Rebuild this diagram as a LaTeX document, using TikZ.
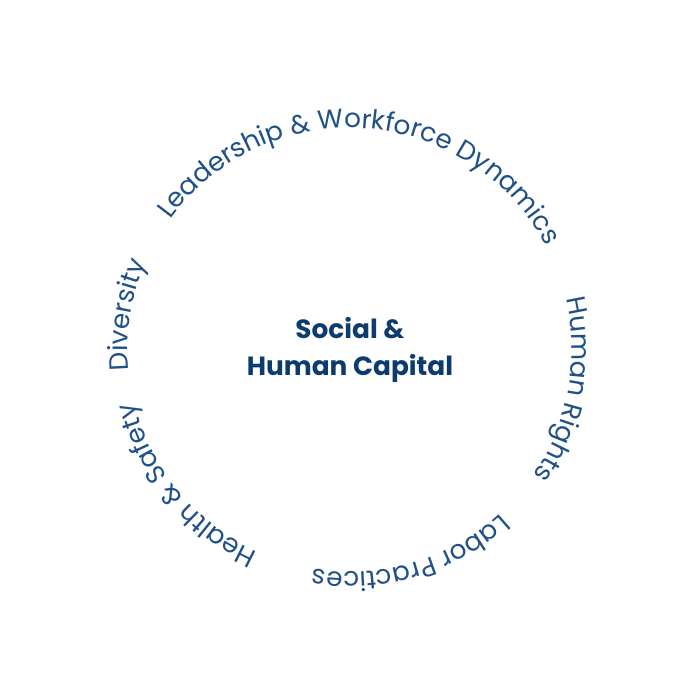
\documentclass[tikz,border=0pt]{standalone}
\usepackage{fontspec}
\setmainfont{Poppins}
\usetikzlibrary{decorations.text}

\definecolor{ringblue}{HTML}{1F5088}
\definecolor{coreblue}{HTML}{0C3B70}
\newcommand{\ringfont}{\fontsize{15}{18}\selectfont}

\tikzset{
	ringlabel/.style={decorate, decoration={text along path, text align=center,
		text color=ringblue, text={|\ringfont|#1}}},
}

\begin{document}
\begin{tikzpicture}[x=0.02cm, y=0.02cm, coretext/.style={text=coreblue, align=center, font=\fontsize{15}{21}\selectfont\bfseries}]
	\useasboundingbox (-350,-350) rectangle (350,350);
	\node[coretext] (core) at (0,0) {Social \&\\Human Capital};
	% labels round the ring, read clockwise
	\path[ringlabel={Leadership {\&} Workforce Dynamics}] (166:222) arc[start angle=166, end angle=6, radius=222];
	\path[ringlabel={Human Rights}] (69.5:222) arc[start angle=69.5, end angle=-90.5, radius=222];
	\path[ringlabel={Labor Practices}] (6.5:222) arc[start angle=6.5, end angle=-153.5, radius=222];
	\path[ringlabel={Health {\&} Safety}] (-60.5:222) arc[start angle=-60.5, end angle=-220.5, radius=222];
	\path[ringlabel={Diversity}] (251:222) arc[start angle=251, end angle=91, radius=222];
\end{tikzpicture}
\end{document}
